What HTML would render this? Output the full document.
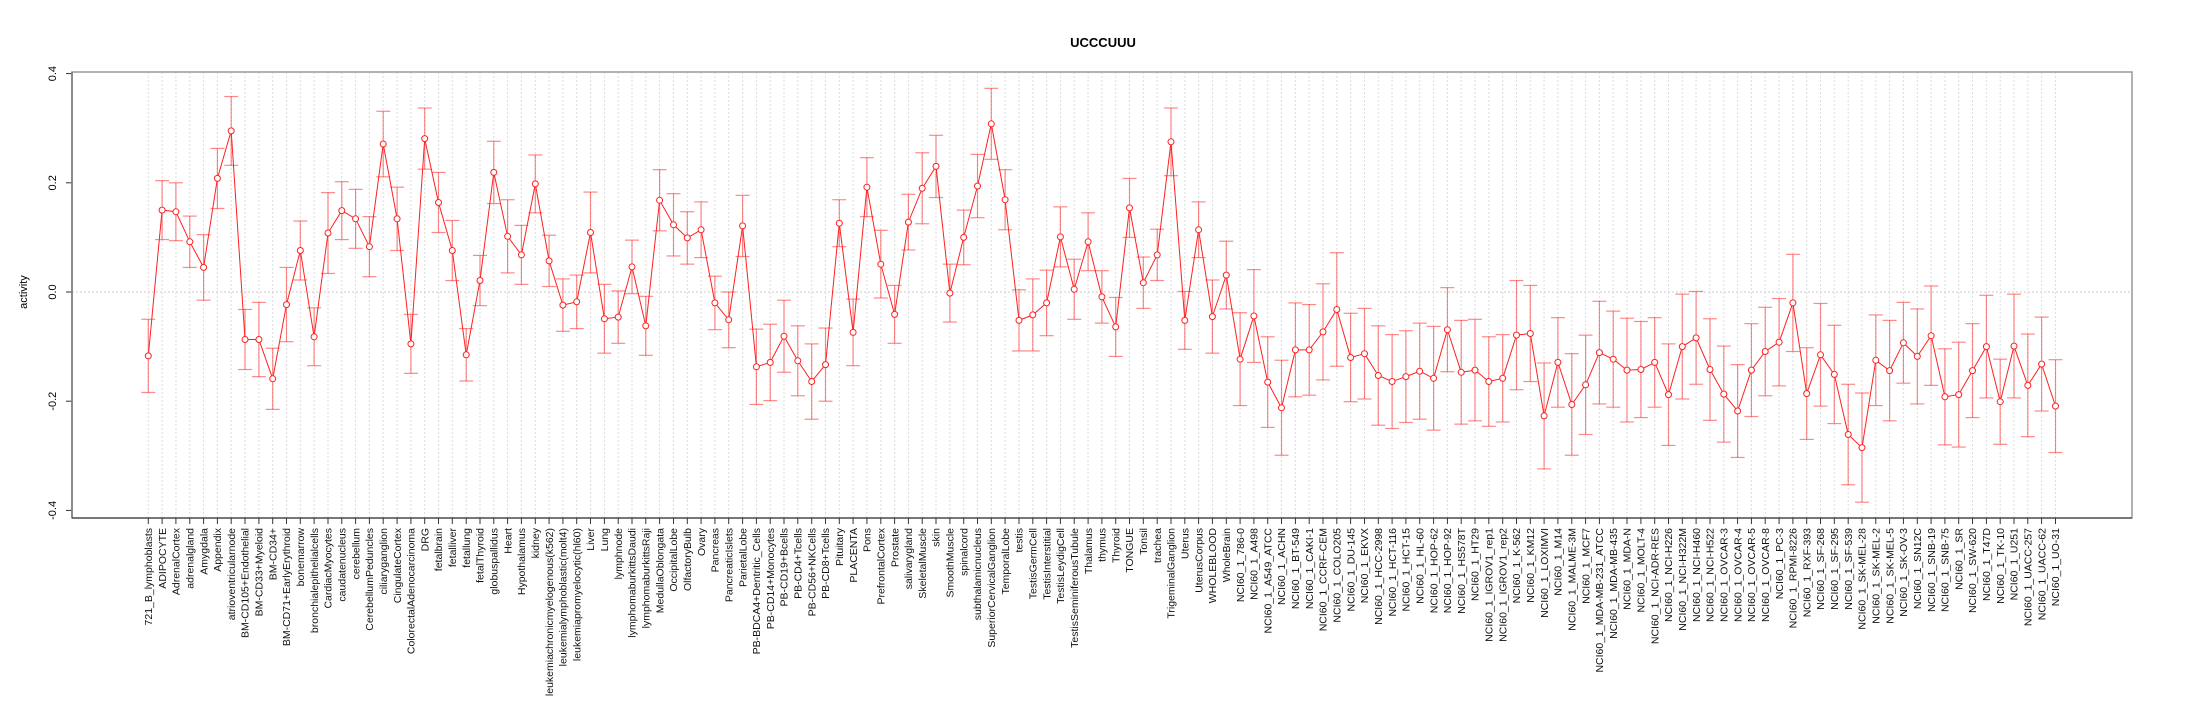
<!DOCTYPE html>
<html><head><meta charset="utf-8"><style>
html,body{margin:0;padding:0;background:#fff;}
svg{display:block;font-family:"Liberation Sans",Arial,sans-serif;}
.lab text{font-size:10.5px;fill:#111;text-anchor:end;}
</style></head><body>
<svg id="s" width="2205" height="720" viewBox="0 0 2205 720" xmlns="http://www.w3.org/2000/svg">
<rect width="2205" height="720" fill="#fff"/>
<text x="1103" y="47" font-size="13" font-weight="bold" text-anchor="middle">UCCCUUU</text>
<text transform="translate(27,292)rotate(-90)" font-size="11" text-anchor="middle">activity</text>
<g font-size="11" text-anchor="middle">
<text transform="translate(56,73.6)rotate(-90)">0.4</text>
<text transform="translate(56,182.8)rotate(-90)">0.2</text>
<text transform="translate(56,292)rotate(-90)">0.0</text>
<text transform="translate(56,401.2)rotate(-90)">-0.2</text>
<text transform="translate(56,510.4)rotate(-90)">-0.4</text>
</g>
<g stroke="#333" stroke-width="1">
<line x1="66" y1="73.6" x2="72" y2="73.6"/><line x1="66" y1="182.8" x2="72" y2="182.8"/><line x1="66" y1="292" x2="72" y2="292"/><line x1="66" y1="401.2" x2="72" y2="401.2"/><line x1="66" y1="510.4" x2="72" y2="510.4"/>
</g>
<g id="grid"></g>
<line x1="72" y1="292" x2="2132" y2="292" stroke="#ccc" stroke-dasharray="2,2"/>
<rect x="72" y="72" width="2060" height="446" fill="none" stroke="#999" stroke-width="1.5"/>
<line x1="72" y1="72" x2="72" y2="518" stroke="#777" stroke-width="1.5"/>
<line x1="72" y1="518" x2="2132" y2="518" stroke="#444" stroke-width="1.2"/>
<g id="ticks" stroke="#333"></g>
<g id="data"></g>
<g class="lab">
<text transform="translate(148.3,528)rotate(-90)" dy="0.35em">721_B_lymphoblasts</text>
<text transform="translate(162.1,528)rotate(-90)" dy="0.35em">ADIPOCYTE</text>
<text transform="translate(175.9,528)rotate(-90)" dy="0.35em">AdrenalCortex</text>
<text transform="translate(189.8,528)rotate(-90)" dy="0.35em">adrenalgland</text>
<text transform="translate(203.6,528)rotate(-90)" dy="0.35em">Amygdala</text>
<text transform="translate(217.4,528)rotate(-90)" dy="0.35em">Appendix</text>
<text transform="translate(231.2,528)rotate(-90)" dy="0.35em">atrioventricularnode</text>
<text transform="translate(245.0,528)rotate(-90)" dy="0.35em">BM-CD105+Endothelial</text>
<text transform="translate(258.9,528)rotate(-90)" dy="0.35em">BM-CD33+Myeloid</text>
<text transform="translate(272.7,528)rotate(-90)" dy="0.35em">BM-CD34+</text>
<text transform="translate(286.5,528)rotate(-90)" dy="0.35em">BM-CD71+EarlyErythroid</text>
<text transform="translate(300.3,528)rotate(-90)" dy="0.35em">bonemarrow</text>
<text transform="translate(314.1,528)rotate(-90)" dy="0.35em">bronchialepithelialcells</text>
<text transform="translate(328.0,528)rotate(-90)" dy="0.35em">CardiacMyocytes</text>
<text transform="translate(341.8,528)rotate(-90)" dy="0.35em">caudatenucleus</text>
<text transform="translate(355.6,528)rotate(-90)" dy="0.35em">cerebellum</text>
<text transform="translate(369.4,528)rotate(-90)" dy="0.35em">CerebellumPeduncles</text>
<text transform="translate(383.2,528)rotate(-90)" dy="0.35em">ciliaryganglion</text>
<text transform="translate(397.1,528)rotate(-90)" dy="0.35em">CingulateCortex</text>
<text transform="translate(410.9,528)rotate(-90)" dy="0.35em">ColorectalAdenocarcinoma</text>
<text transform="translate(424.7,528)rotate(-90)" dy="0.35em">DRG</text>
<text transform="translate(438.5,528)rotate(-90)" dy="0.35em">fetalbrain</text>
<text transform="translate(452.3,528)rotate(-90)" dy="0.35em">fetalliver</text>
<text transform="translate(466.2,528)rotate(-90)" dy="0.35em">fetallung</text>
<text transform="translate(480.0,528)rotate(-90)" dy="0.35em">fetalThyroid</text>
<text transform="translate(493.8,528)rotate(-90)" dy="0.35em">globuspallidus</text>
<text transform="translate(507.6,528)rotate(-90)" dy="0.35em">Heart</text>
<text transform="translate(521.4,528)rotate(-90)" dy="0.35em">Hypothalamus</text>
<text transform="translate(535.3,528)rotate(-90)" dy="0.35em">kidney</text>
<text transform="translate(549.1,528)rotate(-90)" dy="0.35em">leukemiachronicmyelogenous(k562)</text>
<text transform="translate(562.9,528)rotate(-90)" dy="0.35em">leukemialymphoblastic(molt4)</text>
<text transform="translate(576.7,528)rotate(-90)" dy="0.35em">leukemiapromyelocytic(hl60)</text>
<text transform="translate(590.5,528)rotate(-90)" dy="0.35em">Liver</text>
<text transform="translate(604.4,528)rotate(-90)" dy="0.35em">Lung</text>
<text transform="translate(618.2,528)rotate(-90)" dy="0.35em">lymphnode</text>
<text transform="translate(632.0,528)rotate(-90)" dy="0.35em">lymphomaburkittsDaudi</text>
<text transform="translate(645.8,528)rotate(-90)" dy="0.35em">lymphomaburkittsRaji</text>
<text transform="translate(659.6,528)rotate(-90)" dy="0.35em">MedullaOblongata</text>
<text transform="translate(673.5,528)rotate(-90)" dy="0.35em">OccipitalLobe</text>
<text transform="translate(687.3,528)rotate(-90)" dy="0.35em">OlfactoryBulb</text>
<text transform="translate(701.1,528)rotate(-90)" dy="0.35em">Ovary</text>
<text transform="translate(714.9,528)rotate(-90)" dy="0.35em">Pancreas</text>
<text transform="translate(728.7,528)rotate(-90)" dy="0.35em">PancreaticIslets</text>
<text transform="translate(742.6,528)rotate(-90)" dy="0.35em">ParietalLobe</text>
<text transform="translate(756.4,528)rotate(-90)" dy="0.35em">PB-BDCA4+Dentritic_Cells</text>
<text transform="translate(770.2,528)rotate(-90)" dy="0.35em">PB-CD14+Monocytes</text>
<text transform="translate(784.0,528)rotate(-90)" dy="0.35em">PB-CD19+Bcells</text>
<text transform="translate(797.8,528)rotate(-90)" dy="0.35em">PB-CD4+Tcells</text>
<text transform="translate(811.7,528)rotate(-90)" dy="0.35em">PB-CD56+NKCells</text>
<text transform="translate(825.5,528)rotate(-90)" dy="0.35em">PB-CD8+Tcells</text>
<text transform="translate(839.3,528)rotate(-90)" dy="0.35em">Pituitary</text>
<text transform="translate(853.1,528)rotate(-90)" dy="0.35em">PLACENTA</text>
<text transform="translate(866.9,528)rotate(-90)" dy="0.35em">Pons</text>
<text transform="translate(880.8,528)rotate(-90)" dy="0.35em">PrefrontalCortex</text>
<text transform="translate(894.6,528)rotate(-90)" dy="0.35em">Prostate</text>
<text transform="translate(908.4,528)rotate(-90)" dy="0.35em">salivarygland</text>
<text transform="translate(922.2,528)rotate(-90)" dy="0.35em">SkeletalMuscle</text>
<text transform="translate(936.0,528)rotate(-90)" dy="0.35em">skin</text>
<text transform="translate(949.9,528)rotate(-90)" dy="0.35em">SmoothMuscle</text>
<text transform="translate(963.7,528)rotate(-90)" dy="0.35em">spinalcord</text>
<text transform="translate(977.5,528)rotate(-90)" dy="0.35em">subthalamicnucleus</text>
<text transform="translate(991.3,528)rotate(-90)" dy="0.35em">SuperiorCervicalGanglion</text>
<text transform="translate(1005.1,528)rotate(-90)" dy="0.35em">TemporalLobe</text>
<text transform="translate(1019.0,528)rotate(-90)" dy="0.35em">testis</text>
<text transform="translate(1032.8,528)rotate(-90)" dy="0.35em">TestisGermCell</text>
<text transform="translate(1046.6,528)rotate(-90)" dy="0.35em">TestisInterstitial</text>
<text transform="translate(1060.4,528)rotate(-90)" dy="0.35em">TestisLeydigCell</text>
<text transform="translate(1074.2,528)rotate(-90)" dy="0.35em">TestisSeminiferousTubule</text>
<text transform="translate(1088.1,528)rotate(-90)" dy="0.35em">Thalamus</text>
<text transform="translate(1101.9,528)rotate(-90)" dy="0.35em">thymus</text>
<text transform="translate(1115.7,528)rotate(-90)" dy="0.35em">Thyroid</text>
<text transform="translate(1129.5,528)rotate(-90)" dy="0.35em">TONGUE</text>
<text transform="translate(1143.3,528)rotate(-90)" dy="0.35em">Tonsil</text>
<text transform="translate(1157.2,528)rotate(-90)" dy="0.35em">trachea</text>
<text transform="translate(1171.0,528)rotate(-90)" dy="0.35em">TrigeminalGanglion</text>
<text transform="translate(1184.8,528)rotate(-90)" dy="0.35em">Uterus</text>
<text transform="translate(1198.6,528)rotate(-90)" dy="0.35em">UterusCorpus</text>
<text transform="translate(1212.4,528)rotate(-90)" dy="0.35em">WHOLEBLOOD</text>
<text transform="translate(1226.3,528)rotate(-90)" dy="0.35em">WholeBrain</text>
<text transform="translate(1240.1,528)rotate(-90)" dy="0.35em">NCI60_1_786-0</text>
<text transform="translate(1253.9,528)rotate(-90)" dy="0.35em">NCI60_1_A498</text>
<text transform="translate(1267.7,528)rotate(-90)" dy="0.35em">NCI60_1_A549_ATCC</text>
<text transform="translate(1281.5,528)rotate(-90)" dy="0.35em">NCI60_1_ACHN</text>
<text transform="translate(1295.4,528)rotate(-90)" dy="0.35em">NCI60_1_BT-549</text>
<text transform="translate(1309.2,528)rotate(-90)" dy="0.35em">NCI60_1_CAKI-1</text>
<text transform="translate(1323.0,528)rotate(-90)" dy="0.35em">NCI60_1_CCRF-CEM</text>
<text transform="translate(1336.8,528)rotate(-90)" dy="0.35em">NCI60_1_COLO205</text>
<text transform="translate(1350.6,528)rotate(-90)" dy="0.35em">NCI60_1_DU-145</text>
<text transform="translate(1364.5,528)rotate(-90)" dy="0.35em">NCI60_1_EKVX</text>
<text transform="translate(1378.3,528)rotate(-90)" dy="0.35em">NCI60_1_HCC-2998</text>
<text transform="translate(1392.1,528)rotate(-90)" dy="0.35em">NCI60_1_HCT-116</text>
<text transform="translate(1405.9,528)rotate(-90)" dy="0.35em">NCI60_1_HCT-15</text>
<text transform="translate(1419.7,528)rotate(-90)" dy="0.35em">NCI60_1_HL-60</text>
<text transform="translate(1433.6,528)rotate(-90)" dy="0.35em">NCI60_1_HOP-62</text>
<text transform="translate(1447.4,528)rotate(-90)" dy="0.35em">NCI60_1_HOP-92</text>
<text transform="translate(1461.2,528)rotate(-90)" dy="0.35em">NCI60_1_HS578T</text>
<text transform="translate(1475.0,528)rotate(-90)" dy="0.35em">NCI60_1_HT29</text>
<text transform="translate(1488.8,528)rotate(-90)" dy="0.35em">NCI60_1_IGROV1_rep1</text>
<text transform="translate(1502.7,528)rotate(-90)" dy="0.35em">NCI60_1_IGROV1_rep2</text>
<text transform="translate(1516.5,528)rotate(-90)" dy="0.35em">NCI60_1_K-562</text>
<text transform="translate(1530.3,528)rotate(-90)" dy="0.35em">NCI60_1_KM12</text>
<text transform="translate(1544.1,528)rotate(-90)" dy="0.35em">NCI60_1_LOXIMVI</text>
<text transform="translate(1557.9,528)rotate(-90)" dy="0.35em">NCI60_1_M14</text>
<text transform="translate(1571.8,528)rotate(-90)" dy="0.35em">NCI60_1_MALME-3M</text>
<text transform="translate(1585.6,528)rotate(-90)" dy="0.35em">NCI60_1_MCF7</text>
<text transform="translate(1599.4,528)rotate(-90)" dy="0.35em">NCI60_1_MDA-MB-231_ATCC</text>
<text transform="translate(1613.2,528)rotate(-90)" dy="0.35em">NCI60_1_MDA-MB-435</text>
<text transform="translate(1627.0,528)rotate(-90)" dy="0.35em">NCI60_1_MDA-N</text>
<text transform="translate(1640.9,528)rotate(-90)" dy="0.35em">NCI60_1_MOLT-4</text>
<text transform="translate(1654.7,528)rotate(-90)" dy="0.35em">NCI60_1_NCI-ADR-RES</text>
<text transform="translate(1668.5,528)rotate(-90)" dy="0.35em">NCI60_1_NCI-H226</text>
<text transform="translate(1682.3,528)rotate(-90)" dy="0.35em">NCI60_1_NCI-H322M</text>
<text transform="translate(1696.1,528)rotate(-90)" dy="0.35em">NCI60_1_NCI-H460</text>
<text transform="translate(1710.0,528)rotate(-90)" dy="0.35em">NCI60_1_NCI-H522</text>
<text transform="translate(1723.8,528)rotate(-90)" dy="0.35em">NCI60_1_OVCAR-3</text>
<text transform="translate(1737.6,528)rotate(-90)" dy="0.35em">NCI60_1_OVCAR-4</text>
<text transform="translate(1751.4,528)rotate(-90)" dy="0.35em">NCI60_1_OVCAR-5</text>
<text transform="translate(1765.2,528)rotate(-90)" dy="0.35em">NCI60_1_OVCAR-8</text>
<text transform="translate(1779.1,528)rotate(-90)" dy="0.35em">NCI60_1_PC-3</text>
<text transform="translate(1792.9,528)rotate(-90)" dy="0.35em">NCI60_1_RPMI-8226</text>
<text transform="translate(1806.7,528)rotate(-90)" dy="0.35em">NCI60_1_RXF-393</text>
<text transform="translate(1820.5,528)rotate(-90)" dy="0.35em">NCI60_1_SF-268</text>
<text transform="translate(1834.3,528)rotate(-90)" dy="0.35em">NCI60_1_SF-295</text>
<text transform="translate(1848.2,528)rotate(-90)" dy="0.35em">NCI60_1_SF-539</text>
<text transform="translate(1862.0,528)rotate(-90)" dy="0.35em">NCI60_1_SK-MEL-28</text>
<text transform="translate(1875.8,528)rotate(-90)" dy="0.35em">NCI60_1_SK-MEL-2</text>
<text transform="translate(1889.6,528)rotate(-90)" dy="0.35em">NCI60_1_SK-MEL-5</text>
<text transform="translate(1903.4,528)rotate(-90)" dy="0.35em">NCI60_1_SK-OV-3</text>
<text transform="translate(1917.3,528)rotate(-90)" dy="0.35em">NCI60_1_SN12C</text>
<text transform="translate(1931.1,528)rotate(-90)" dy="0.35em">NCI60_1_SNB-19</text>
<text transform="translate(1944.9,528)rotate(-90)" dy="0.35em">NCI60_1_SNB-75</text>
<text transform="translate(1958.7,528)rotate(-90)" dy="0.35em">NCI60_1_SR</text>
<text transform="translate(1972.5,528)rotate(-90)" dy="0.35em">NCI60_1_SW-620</text>
<text transform="translate(1986.4,528)rotate(-90)" dy="0.35em">NCI60_1_T47D</text>
<text transform="translate(2000.2,528)rotate(-90)" dy="0.35em">NCI60_1_TK-10</text>
<text transform="translate(2014.0,528)rotate(-90)" dy="0.35em">NCI60_1_U251</text>
<text transform="translate(2027.8,528)rotate(-90)" dy="0.35em">NCI60_1_UACC-257</text>
<text transform="translate(2041.6,528)rotate(-90)" dy="0.35em">NCI60_1_UACC-62</text>
<text transform="translate(2055.5,528)rotate(-90)" dy="0.35em">NCI60_1_UO-31</text>
</g>
</svg>
<script>
var D=[[-0.117,.067],[.150,.054],[.147,.053],[.092,.047],[.045,.060],[.208,.055],[.295,.063],[-.087,.055],[-.087,.068],[-.159,.056],
[-.023,.068],[.076,.054],[-.082,.053],[.108,.074],[.149,.053],[.134,.054],[.083,.055],[.271,.060],[.134,.058],[-.095,.054],
[.281,.056],[.164,.055],[.076,.055],[-.115,.048],[.021,.046],[.219,.057],[.102,.067],[.068,.054],[.198,.053],[.057,.047],
[-.024,.048],[-.018,.049],[.109,.074],[-.049,.063],[-.046,.048],[.046,.049],[-.062,.054],[.168,.056],[.123,.057],[.099,.048],
[.114,.051],[-.020,.049],[-.051,.051],[.121,.056],[-.137,.069],[-.129,.070],[-.081,.066],[-.126,.064],[-.164,.069],[-.133,.067],
[.126,.043],[-.074,.061],[.192,.054],[.051,.062],[-.041,.053],[.128,.051],[.190,.065],[.230,.057],[-.002,.053],[.100,.050],
[.194,.058],[.308,.065],[.169,.055],[-.052,.056],[-.042,.066],[-.020,.060],[.101,.055],[.005,.055],[.092,.053],[-.009,.048],
[-.064,.054],[.154,.054],[.017,.047],[.068,.047],[.275,.062],[-.052,.053],[.114,.051],[-.045,.067],[.031,.062],[-.123,.085],
[-.044,.085],[-.165,.083],[-.212,.087],[-.106,.086],[-.106,.083],[-.073,.088],[-.032,.104],[-.120,.081],[-.113,.083],[-.153,.091],
[-.164,.086],[-.155,.084],[-.145,.088],[-.158,.095],[-.069,.077],[-.147,.095],[-.143,.093],[-.164,.082],[-.158,.080],[-.079,.100],
[-.076,.088],[-.227,.097],[-.129,.082],[-.206,.093],[-.170,.091],[-.111,.094],[-.123,.088],[-.143,.095],[-.142,.088],[-.129,.082],
[-.188,.093],[-.100,.096],[-.084,.085],[-.142,.093],[-.187,.088],[-.218,.085],[-.143,.085],[-.109,.081],[-.092,.080],[-.020,.089],
[-.186,.084],[-.115,.094],[-.151,.090],[-.261,.092],[-.285,.100],[-.125,.083],[-.144,.092],[-.093,.074],[-.118,.087],[-.080,.091],
[-.192,.088],[-.188,.096],[-.144,.086],[-.100,.094],[-.201,.078],[-.099,.095],[-.171,.094],[-.132,.086],[-.209,.085]];
function X(i){return 148.3+13.82*i;}function Y(v){return 292-546*v;}
var g="",t="",d="",p="";
for(var i=0;i<D.length;i++){var x=X(i).toFixed(1),y=Y(D[i][0]),a=Y(D[i][0]+D[i][1]),b=Y(D[i][0]-D[i][1]);
g+='<line x1="'+x+'" y1="72" x2="'+x+'" y2="518" stroke="#ddd" stroke-dasharray="2,2"/>';
t+='<line x1="'+x+'" y1="518" x2="'+x+'" y2="524"/>';
d+='<line x1="'+x+'" y1="'+a+'" x2="'+x+'" y2="'+b+'"/><line x1="'+(X(i)-7)+'" y1="'+a+'" x2="'+(X(i)+7)+'" y2="'+a+'"/><line x1="'+(X(i)-7)+'" y1="'+b+'" x2="'+(X(i)+7)+'" y2="'+b+'"/>';
p+=(i?"L":"M")+x+" "+y.toFixed(1);}
var c="";for(var i=0;i<D.length;i++){c+='<circle cx="'+X(i).toFixed(1)+'" cy="'+Y(D[i][0]).toFixed(1)+'" r="3"/>';}
document.getElementById("grid").innerHTML=g;
document.getElementById("ticks").innerHTML=t;
document.getElementById("data").innerHTML='<g stroke="rgba(255,40,40,0.55)" stroke-width="1.2">'+d+'</g><path d="'+p+'" fill="none" stroke="#ff2020" stroke-width="1"/><g fill="#fff" stroke="#ff2020" stroke-width="1">'+c+'</g>';
</script>
</body></html>
